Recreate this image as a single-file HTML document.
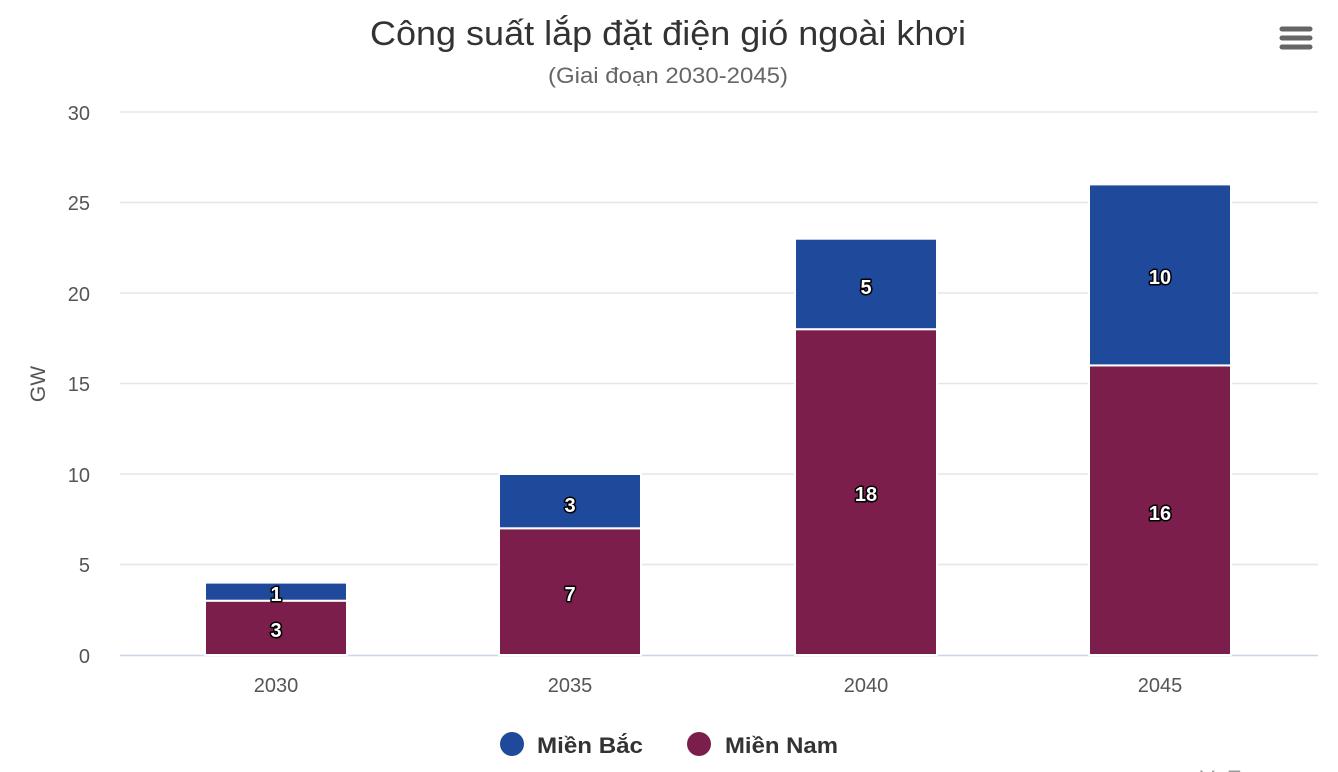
<!DOCTYPE html>
<html><head><meta charset="utf-8"><style>
html,body{margin:0;padding:0;background:#fff;overflow:hidden}
svg{display:block;font-family:"Liberation Sans",Arial,sans-serif}
.dl{font-size:20px;font-weight:bold;fill:#fff;stroke:#000;stroke-width:3px;paint-order:stroke;stroke-linejoin:round;text-anchor:middle}
.ax{font-size:20px;fill:#555}
</style></head><body>
<svg width="1338" height="772" viewBox="0 0 1338 772">
<text x="668" y="45" text-anchor="middle" font-size="34" fill="#333" textLength="596" lengthAdjust="spacingAndGlyphs">Công suất lắp đặt điện gió ngoài khơi</text>
<text x="668" y="83" text-anchor="middle" font-size="22" fill="#666" textLength="240" lengthAdjust="spacingAndGlyphs">(Giai đoạn 2030-2045)</text>
<g stroke="#666" stroke-width="5" stroke-linecap="round">
<line x1="1282" y1="29" x2="1310" y2="29"/><line x1="1282" y1="38" x2="1310" y2="38"/><line x1="1282" y1="47" x2="1310" y2="47"/>
</g>
<g stroke="#e6e6e6" stroke-width="1.5">
<line x1="120" y1="112" x2="1318" y2="112"/><line x1="120" y1="202.5" x2="1318" y2="202.5"/>
<line x1="120" y1="293" x2="1318" y2="293"/><line x1="120" y1="383.5" x2="1318" y2="383.5"/>
<line x1="120" y1="474" x2="1318" y2="474"/><line x1="120" y1="564.5" x2="1318" y2="564.5"/>
</g>
<line x1="120" y1="655.5" x2="1318" y2="655.5" stroke="#ccd6eb" stroke-width="1.5"/>
<g class="ax" text-anchor="end">
<text x="90" y="663">0</text><text x="90" y="572">5</text><text x="90" y="482">10</text>
<text x="90" y="391">15</text><text x="90" y="301">20</text><text x="90" y="210">25</text><text x="90" y="120">30</text>
</g>
<text transform="translate(45,384) rotate(-90)" text-anchor="middle" font-size="21" fill="#555">GW</text>
<g class="ax" text-anchor="middle">
<text x="276" y="692">2030</text><text x="570" y="692">2035</text><text x="866" y="692">2040</text><text x="1160" y="692">2045</text>
</g>
<g stroke="#fff" stroke-width="2">
<rect x="205" y="600.7" width="142" height="54.3" fill="#7b1e4b"/>
<rect x="205" y="582.6" width="142" height="18.1" fill="#1f4a9c"/>
<rect x="499" y="528.3" width="142" height="126.7" fill="#7b1e4b"/>
<rect x="499" y="474" width="142" height="54.3" fill="#1f4a9c"/>
<rect x="795" y="329.2" width="142" height="325.8" fill="#7b1e4b"/>
<rect x="795" y="238.7" width="142" height="90.5" fill="#1f4a9c"/>
<rect x="1089" y="365.4" width="142" height="289.6" fill="#7b1e4b"/>
<rect x="1089" y="184.4" width="142" height="181" fill="#1f4a9c"/>
</g>
<g class="dl">
<text x="276" y="637">3</text><text x="276" y="601">1</text>
<text x="570" y="601">7</text><text x="570" y="512">3</text>
<text x="866" y="501">18</text><text x="866" y="294">5</text>
<text x="1160" y="520">16</text><text x="1160" y="284">10</text>
</g>
<circle cx="512" cy="744" r="12" fill="#1f4a9c"/>
<text x="537" y="753" font-size="22" font-weight="bold" fill="#333" textLength="106" lengthAdjust="spacingAndGlyphs">Miền Bắc</text>
<circle cx="699" cy="744" r="12" fill="#7b1e4b"/>
<text x="725" y="753" font-size="22" font-weight="bold" fill="#333" textLength="113" lengthAdjust="spacingAndGlyphs">Miền Nam</text>
<text x="1200" y="786" font-size="22" fill="#999">VnExpress</text>
</svg>
</body></html>
